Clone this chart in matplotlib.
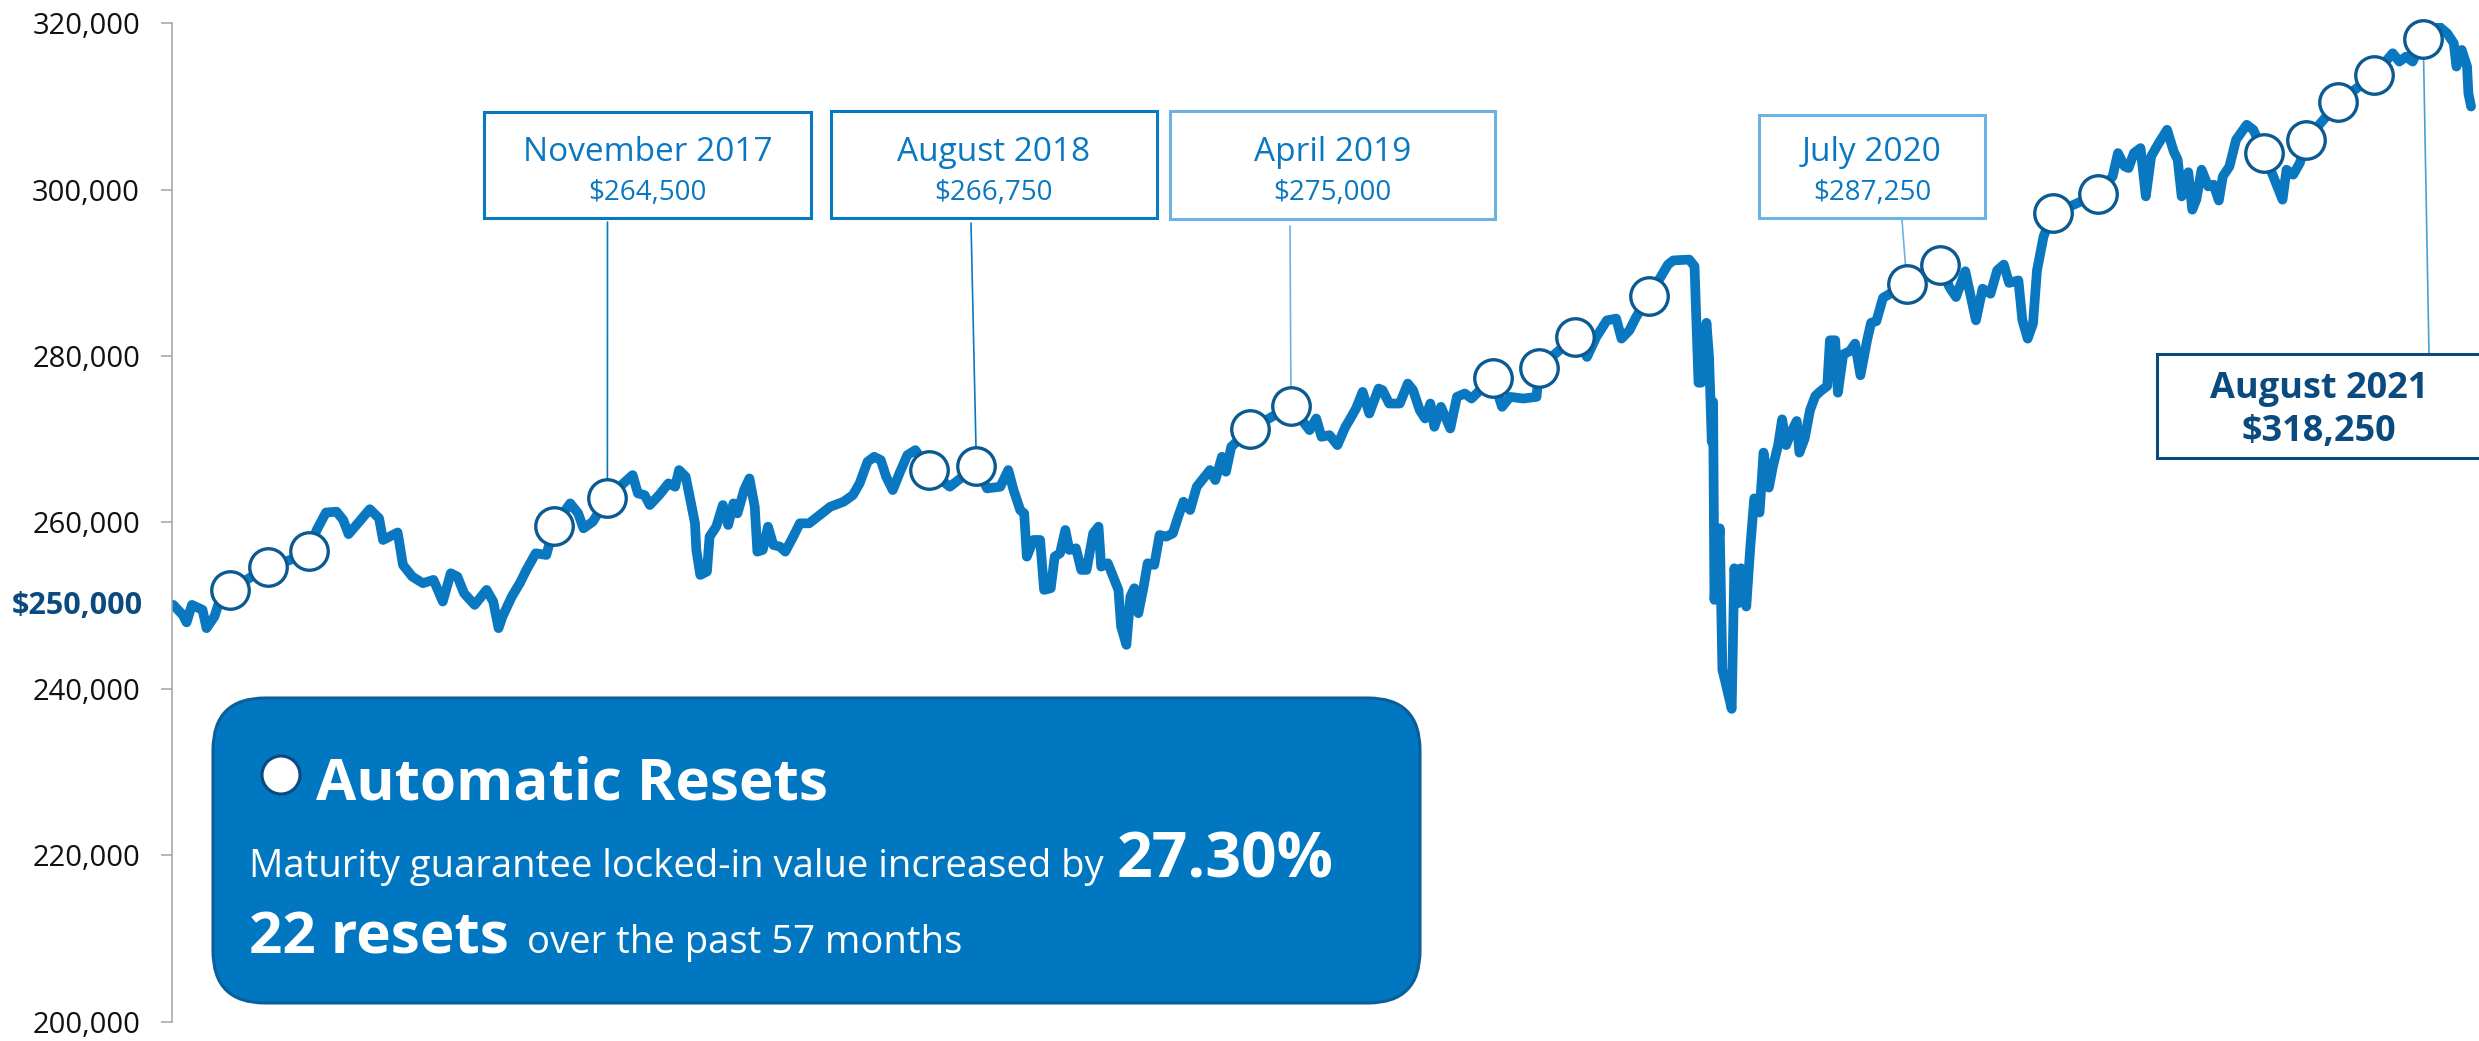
import matplotlib
matplotlib.use("Agg")
import matplotlib.pyplot as plt
import matplotlib.dates as mdates
from matplotlib.patches import Rectangle, FancyBboxPatch, ConnectionPatch, Circle
from matplotlib.ticker import FuncFormatter
import matplotlib.transforms as mtransforms
import pandas as pd

plt.rcParams['font.family'] = ['Open Sans', 'DejaVu Sans']

# ---------------- data ----------------
line_dates = [
    "2016-12-10", "2016-12-17", "2016-12-20", "2016-12-24", "2017-01-01", "2017-01-04", "2017-01-10", "2017-01-14",
    "2017-01-22", "2017-02-05", "2017-02-19", "2017-03-08", "2017-03-22", "2017-03-28", "2017-04-04", "2017-04-12",
    "2017-04-17", "2017-04-21", "2017-04-28", "2017-05-07", "2017-05-14", "2017-05-17", "2017-05-28", "2017-06-01",
    "2017-06-08", "2017-06-16", "2017-06-24", "2017-07-01", "2017-07-07", "2017-07-12", "2017-07-17", "2017-07-25",
    "2017-08-03", "2017-08-08", "2017-08-12", "2017-08-15", "2017-08-22", "2017-08-28", "2017-09-02", "2017-09-09",
    "2017-09-17", "2017-09-23", "2017-10-05", "2017-10-11", "2017-10-15", "2017-10-22", "2017-11-02", "2017-11-14",
    "2017-11-21", "2017-11-25", "2017-11-30", "2017-12-04", "2017-12-11", "2017-12-18", "2017-12-23", "2017-12-26",
    "2017-12-31", "2018-01-04", "2018-01-07", "2018-01-08", "2018-01-11", "2018-01-16", "2018-01-18", "2018-01-23",
    "2018-01-28", "2018-02-01", "2018-02-05", "2018-02-08", "2018-02-13", "2018-02-17", "2018-02-21", "2018-02-23",
    "2018-02-27", "2018-03-03", "2018-03-07", "2018-03-12", "2018-03-16", "2018-03-22", "2018-03-27", "2018-04-03",
    "2018-04-11", "2018-04-19", "2018-04-29", "2018-05-06", "2018-05-11", "2018-05-17", "2018-05-22", "2018-05-27",
    "2018-05-31", "2018-06-05", "2018-06-10", "2018-06-16", "2018-06-22", "2018-07-02", "2018-07-18", "2018-08-07",
    "2018-08-15", "2018-08-25", "2018-08-31", "2018-09-04", "2018-09-09", "2018-09-12", "2018-09-14", "2018-09-19",
    "2018-09-24", "2018-09-27", "2018-10-02", "2018-10-05", "2018-10-09", "2018-10-13", "2018-10-16", "2018-10-21",
    "2018-10-25", "2018-10-29", "2018-11-03", "2018-11-07", "2018-11-09", "2018-11-14", "2018-11-18", "2018-11-22",
    "2018-11-24", "2018-11-28", "2018-12-01", "2018-12-04", "2018-12-07", "2018-12-11", "2018-12-14", "2018-12-19",
    "2018-12-23", "2018-12-28", "2019-01-02", "2019-01-06", "2019-01-10", "2019-01-15", "2019-01-20", "2019-01-25",
    "2019-01-30", "2019-02-03", "2019-02-08", "2019-02-11", "2019-02-15", "2019-03-01", "2019-04-01", "2019-04-15",
    "2019-04-20", "2019-04-24", "2019-04-30", "2019-05-06", "2019-05-12", "2019-05-15", "2019-05-20", "2019-05-25",
    "2019-05-30", "2019-06-06", "2019-06-09", "2019-06-14", "2019-06-22", "2019-06-28", "2019-07-02", "2019-07-07",
    "2019-07-11", "2019-07-15", "2019-07-18", "2019-07-23", "2019-07-30", "2019-08-04", "2019-08-10", "2019-08-15",
    "2019-08-31", "2019-09-07", "2019-09-13", "2019-09-23", "2019-10-03", "2019-10-05", "2019-10-23", "2019-11-01",
    "2019-11-10", "2019-11-17", "2019-11-25", "2019-12-02", "2019-12-06", "2019-12-12", "2019-12-17", "2019-12-27",
    "2020-01-10", "2020-01-14", "2020-01-26", "2020-01-30", "2020-02-02", "2020-02-04", "2020-02-08", "2020-02-10",
    "2020-02-12", "2020-02-13", "2020-02-14", "2020-02-18", "2020-02-20", "2020-02-22", "2020-02-27", "2020-02-29",
    "2020-03-03", "2020-03-05", "2020-03-09", "2020-03-12", "2020-03-15", "2020-03-19", "2020-03-22", "2020-03-26",
    "2020-03-29", "2020-04-02", "2020-04-05", "2020-04-08", "2020-04-12", "2020-04-16", "2020-04-18", "2020-04-22",
    "2020-04-26", "2020-04-30", "2020-05-04", "2020-05-09", "2020-05-11", "2020-05-15", "2020-05-17", "2020-05-21",
    "2020-05-26", "2020-05-30", "2020-06-03", "2020-06-08", "2020-06-11", "2020-06-15", "2020-06-20", "2020-07-08",
    "2020-07-20", "2020-08-02", "2020-08-09", "2020-08-14", "2020-08-21", "2020-08-29", "2020-09-03", "2020-09-09",
    "2020-09-14", "2020-09-19", "2020-09-23", "2020-09-30", "2020-10-03", "2020-10-07", "2020-10-11", "2020-10-14",
    "2020-10-19", "2020-10-26", "2020-11-08", "2020-11-29", "2020-12-10", "2020-12-14", "2020-12-19", "2020-12-22",
    "2020-12-26", "2020-12-31", "2021-01-04", "2021-01-08", "2021-01-13", "2021-01-20", "2021-01-25", "2021-01-28",
    "2021-01-31", "2021-02-05", "2021-02-08", "2021-02-11", "2021-02-15", "2021-02-20", "2021-02-24", "2021-02-28",
    "2021-03-03", "2021-03-08", "2021-03-13", "2021-03-21", "2021-03-26", "2021-04-03", "2021-04-17", "2021-04-20",
    "2021-04-25", "2021-04-30", "2021-05-05", "2021-05-29", "2021-06-25", "2021-07-09", "2021-07-14", "2021-07-19",
    "2021-07-24", "2021-08-01", "2021-08-13", "2021-08-19", "2021-08-24", "2021-08-26", "2021-08-30", "2021-09-03",
    "2021-09-04", "2021-09-06",
]
# portfolio value in thousands of dollars
line_values_k = [
    250.1, 248.9, 248.0, 250.1, 249.5, 247.3, 248.7, 250.7,
    251.9, 253.3, 254.6, 255.5, 256.6, 259.1, 261.2, 261.3,
    260.3, 258.6, 259.9, 261.6, 260.5, 257.9, 258.8, 254.9,
    253.5, 252.7, 253.1, 250.5, 253.9, 253.5, 251.5, 250.1,
    251.9, 250.5, 247.3, 248.7, 251.1, 252.7, 254.3, 256.3,
    256.1, 259.6, 262.3, 261.1, 259.3, 260.1, 262.9, 264.7,
    265.7, 263.5, 263.3, 262.1, 263.3, 264.7, 264.3, 266.3,
    265.5, 262.3, 259.9, 256.7, 253.7, 254.1, 258.3, 259.5,
    262.1, 259.7, 262.3, 261.1, 263.9, 265.3, 261.9, 256.5,
    256.7, 259.5, 257.3, 257.1, 256.5, 258.3, 259.9, 259.9,
    260.9, 261.9, 262.5, 263.3, 264.7, 267.3, 267.9, 267.5,
    265.5, 263.9, 265.9, 268.1, 268.7, 266.3, 264.3, 266.8,
    264.1, 264.3, 266.3, 263.9, 261.5, 261.1, 255.9, 257.9,
    257.9, 251.9, 252.1, 255.9, 256.3, 259.1, 256.7, 256.9,
    254.3, 254.3, 258.7, 259.5, 254.7, 255.1, 253.5, 251.9,
    247.5, 245.3, 251.1, 252.1, 249.1, 252.3, 255.1, 254.9,
    258.5, 258.3, 258.7, 260.7, 262.5, 261.5, 264.3, 265.3,
    266.3, 265.1, 267.9, 266.1, 269.1, 271.2, 274.0, 271.1,
    272.5, 270.3, 270.5, 269.3, 271.5, 272.3, 273.7, 275.7,
    273.1, 276.1, 275.9, 274.3, 274.3, 276.7, 275.9, 273.5,
    272.5, 274.3, 271.5, 273.9, 271.3, 275.1, 275.5, 274.9,
    277.4, 273.9, 275.1, 274.9, 275.1, 278.6, 281.1, 282.3,
    279.9, 282.3, 284.3, 284.5, 282.1, 283.1, 284.7, 287.2,
    291.0, 291.5, 291.6, 290.8, 276.8, 276.8, 284.0, 279.8,
    269.7, 274.5, 250.7, 259.3, 242.3, 241.0, 237.6, 254.5,
    250.3, 254.5, 249.9, 257.0, 262.9, 261.2, 268.4, 264.2,
    266.7, 269.3, 272.4, 269.3, 270.9, 272.2, 268.4, 270.1,
    273.5, 275.2, 275.8, 276.4, 281.9, 281.9, 275.6, 280.2,
    280.6, 281.5, 277.7, 281.9, 284.0, 284.2, 287.0, 288.7,
    290.0, 291.0, 288.3, 287.1, 290.2, 284.3, 288.1, 287.5,
    290.3, 291.0, 288.8, 289.1, 284.3, 282.1, 283.9, 290.3,
    294.4, 297.2, 298.0, 299.5, 301.6, 304.4, 302.8, 302.6,
    304.4, 305.0, 299.2, 304.0, 305.4, 307.2, 304.6, 303.6,
    299.2, 302.1, 297.6, 298.8, 302.4, 300.4, 300.6, 298.7,
    301.6, 302.8, 306.0, 307.8, 307.2, 304.4, 298.8, 302.4,
    301.8, 303.2, 306.0, 310.5, 313.8, 316.4, 315.4, 316.0,
    315.4, 318.1, 319.6, 318.8, 317.6, 314.8, 316.8, 314.8,
    311.6, 310.0,
]

reset_dates = [
    "2017-01-22", "2017-02-19", "2017-03-22", "2017-09-23", "2017-11-02", "2018-07-02",
    "2018-08-07", "2019-03-01", "2019-04-01", "2019-08-31", "2019-10-05", "2019-11-01",
    "2019-12-27", "2020-07-08", "2020-08-02", "2020-10-26", "2020-11-29", "2021-04-03",
    "2021-05-05", "2021-05-29", "2021-06-25", "2021-08-01",
]
reset_values_k = [
    251.9, 254.6, 256.6, 259.6, 262.9, 266.3,
    266.8, 271.2, 274.0, 277.4, 278.6, 282.3,
    287.2, 288.7, 291.0, 297.2, 299.5, 304.4,
    306.0, 310.5, 313.8, 318.1,
]

y_ticks = [200000, 220000, 240000, 260000, 280000, 300000, 320000]
start_value_label = "$250,000"
start_value = 250000

callout_months = ["November 2017", "August 2018", "April 2019", "July 2020", "August 2021"]
callout_amounts = ["$264,500", "$266,750", "$275,000", "$287,250", "$318,250"]
callout_reset_index = [4, 6, 8, 13, 21]

info_title = "Automatic Resets"
info_line1 = "Maturity guarantee locked-in value increased by"
info_pct = "27.30%"
info_resets = "22 resets"
info_tail = "over the past 57 months"

# ---------------- styling ----------------
LINE = "#0a78c1"
DARK = "#0b5a92"
NAVY = "#0a4a7e"
LIGHT = "#6cb2e2"
GREY = "#a3a3a3"

W, H = 2479, 1041
fig = plt.figure(figsize=(W / 100, H / 100), dpi=100)
ax = fig.add_axes([172 / W, (H - 1021.7) / H, (W - 172) / W, (1021.7 - 23.3) / H])
ax.patch.set_visible(False)

xd = mdates.date2num(pd.to_datetime(line_dates).to_pydatetime())
yv = [v * 1000 for v in line_values_k]
ax.plot(xd, yv, color=LINE, lw=7, solid_joinstyle="round", solid_capstyle="round", zorder=2)

rx = mdates.date2num(pd.to_datetime(reset_dates).to_pydatetime())
ry = [v * 1000 for v in reset_values_k]
ax.plot(rx, ry, linestyle="none", marker="o", ms=27, mfc="white", mec=DARK, mew=2.4,
        zorder=4, clip_on=False)

ax.set_ylim(200000, 320000)
ax.set_xlim(mdates.date2num(pd.Timestamp("2016-12-09").to_pydatetime()),
            mdates.date2num(pd.Timestamp("2021-09-12").to_pydatetime()))
ax.set_yticks(y_ticks)
ax.yaxis.set_major_formatter(FuncFormatter(lambda v, p: f"{v:,.0f}"))
ax.tick_params(axis="y", length=8, width=1.1, color=GREY, pad=15, labelsize=21, labelcolor="#111111")
ax.set_xticks([])
for s in ["top", "right", "bottom"]:
    ax.spines[s].set_visible(False)
ax.spines["left"].set_color(GREY)
ax.spines["left"].set_linewidth(1.1)

trans = mtransforms.blended_transform_factory(ax.transAxes, ax.transData)
ax.text(-29 / (W - 172), start_value, start_value_label, transform=trans, ha="right", va="center",
        fontsize=22, fontweight="bold", color=NAVY)

# ---------------- overlay (pixel coordinates) ----------------
ov = fig.add_axes([0, 0, 1, 1], zorder=5)
ov.set_xlim(0, W)
ov.set_ylim(H, 0)
ov.axis("off")
ov.patch.set_alpha(0)

boxes = [
    dict(x0=484, y0=112, x1=811, y1=218, ec=LINE, tc=LINE, lead=(607.5, 222), bold=False),
    dict(x0=831, y0=111, x1=1157, y1=218, ec=LINE, tc=LINE, lead=(971, 223), bold=False),
    dict(x0=1170, y0=111, x1=1495, y1=219, ec=LIGHT, tc=LINE, lead=(1290, 226), bold=False),
    dict(x0=1759, y0=115, x1=1985, y1=218, ec=LIGHT, tc=LINE, lead=(1902, 220), bold=False),
    dict(x0=2157, y0=354, x1=2500, y1=458, ec=NAVY, tc=NAVY, lead=(2429, 354), bold=True),
]
for b, m, amt, ri in zip(boxes, callout_months, callout_amounts, callout_reset_index):
    ov.add_patch(Rectangle((b["x0"], b["y0"]), b["x1"] - b["x0"], b["y1"] - b["y0"],
                           fc="white", ec=b["ec"], lw=2.2, zorder=3))
    if b["bold"]:
        cx = 2319
        ov.text(cx, 398, m, ha="center", va="baseline", fontsize=26, fontweight="bold", color=b["tc"], zorder=4)
        ov.text(cx, 441, amt, ha="center", va="baseline", fontsize=26, fontweight="bold", color=b["tc"], zorder=4)
        lc = "#4a9ed6"
    else:
        cx = (b["x0"] + b["x1"]) / 2
        ov.text(cx, 161, m, ha="center", va="baseline", fontsize=24, color=b["tc"], zorder=4)
        ov.text(cx, 200, amt, ha="center", va="baseline", fontsize=20, color=b["tc"], zorder=4)
        lc = b["ec"]
    cp = ConnectionPatch(xyA=b["lead"], coordsA=ov.transData, xyB=(rx[ri], ry[ri]), coordsB=ax.transData,
                         color=lc, lw=1.2, zorder=3)
    cp.set_clip_on(False)
    ax.add_artist(cp)

# info box
ov.add_patch(FancyBboxPatch((213, 698), 1207, 305, boxstyle="round,pad=0,rounding_size=52",
                            fc="#0077c0", ec="#0b5f98", lw=2.2, zorder=2))
ov.add_patch(Circle((281, 775), 19, fc="white", ec=NAVY, lw=2.2, zorder=3))
ov.text(316, 800, info_title, color="white", fontsize=42, fontweight="bold", va="baseline", zorder=4)
ov.text(249, 877, info_line1, color="white", fontsize=27.5, va="baseline", zorder=4)
ov.text(1117, 877, info_pct, color="white", fontsize=45, fontweight="bold", va="baseline", zorder=4)
ov.text(249, 953, info_resets, color="white", fontsize=42, fontweight="bold", va="baseline", zorder=4)
ov.text(527, 953, info_tail, color="white", fontsize=27.5, va="baseline", zorder=4)

fig.savefig("out.png", dpi=100)
